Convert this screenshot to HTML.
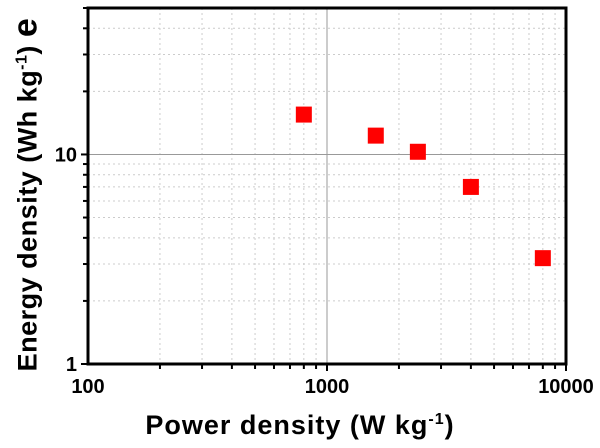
<!DOCTYPE html>
<html><head><meta charset="utf-8"><style>
body{margin:0;background:#fff}
svg{display:block;font-family:"Liberation Sans",Arial,sans-serif;font-weight:bold}
</style></head><body>
<svg id="chart" width="600" height="448" viewBox="0 0 600 448"></svg>
<script>
const powerDensity=[800,1600,2400,4000,8000];
const energyDensity=[15.5,12.3,10.3,7,3.2];
const xTickLabels=["100","1000","10000"];
const yTickLabels=["1","10"];
const L=88,R=566,T=8,B=364;
const x=v=>L+(Math.log10(v)-2)/2*(R-L);
const y=v=>B-Math.log10(v)/Math.log10(50)*(B-T);
const svg=document.getElementById('chart');
const NS='http://www.w3.org/2000/svg';
function mk(tag,attrs,parent){const e=document.createElementNS(NS,tag);for(const k in attrs)e.setAttribute(k,attrs[k]);(parent||svg).appendChild(e);return e;}
const grid=mk('g',{});


for(let d=100;d<10000;d*=10)for(let m=1;m<10;m++){const v=d*m;if(v<=100)continue;const px=x(v);
 const major=(v===1000);
 mk('line',{x1:px,x2:px,y1:T,y2:B,stroke:major?'#999':'#ccc','stroke-width':1,'stroke-dasharray':major?'':'2,3'},grid);
 mk('line',{x1:px,x2:px,y1:B,y2:B+(major?7:5),stroke:'#000','stroke-width':2});}
for(let d=1;d<=10;d*=10)for(let m=1;m<10;m++){const v=d*m;if(v<=1||v>50)continue;const py=y(v);
 const major=(v===10);
 mk('line',{x1:L,x2:R,y1:py,y2:py,stroke:major?'#999':'#ccc','stroke-width':1,'stroke-dasharray':major?'':'2,3'},grid);
 mk('line',{x1:L,x2:L-(major?7:5),y1:py,y2:py,stroke:'#000','stroke-width':2});}
mk('line',{x1:L,x2:L-7,y1:B,y2:B,stroke:'#000','stroke-width':2});
mk('line',{x1:R,x2:R,y1:B,y2:B+7,stroke:'#000','stroke-width':2});
const frame=mk('rect',{x:L,y:T,width:R-L,height:B-T,fill:'none',stroke:'#000','stroke-width':3});


xTickLabels.forEach(t=>{const e=mk('text',{x:x(+t),y:B+29,'text-anchor':'middle','font-size':20});e.textContent=t;
 
 });
yTickLabels.forEach(t=>{const e=mk('text',{x:L-11,y:y(+t)+7,'text-anchor':'end','font-size':20});e.textContent=t;
 
 });
powerDensity.forEach((p,i)=>{const e=mk('rect',{x:x(p)-8,y:y(energyDensity[i])-8,width:16,height:16,fill:'#ff0000'});
 
 });
</script>
<div style="position:absolute;left:0;top:0;width:600px;height:448px;pointer-events:none;font-family:'Liberation Sans',Arial,sans-serif;font-weight:bold">
<div style="position:absolute;left:100px;top:410px;width:400px;text-align:center;font-size:27px;letter-spacing:1px;white-space:nowrap">Power density (W kg<sup style="font-size:16px">-1</sup>)</div>
<div style="position:absolute;left:-174px;top:175px;width:400px;text-align:center;font-size:27px;letter-spacing:0.5px;white-space:nowrap;transform:rotate(-90deg)">Energy density (Wh kg<sup style="font-size:16px">-1</sup>) <span style="font-size:34px">e</span></div>
</div>
</body></html>
